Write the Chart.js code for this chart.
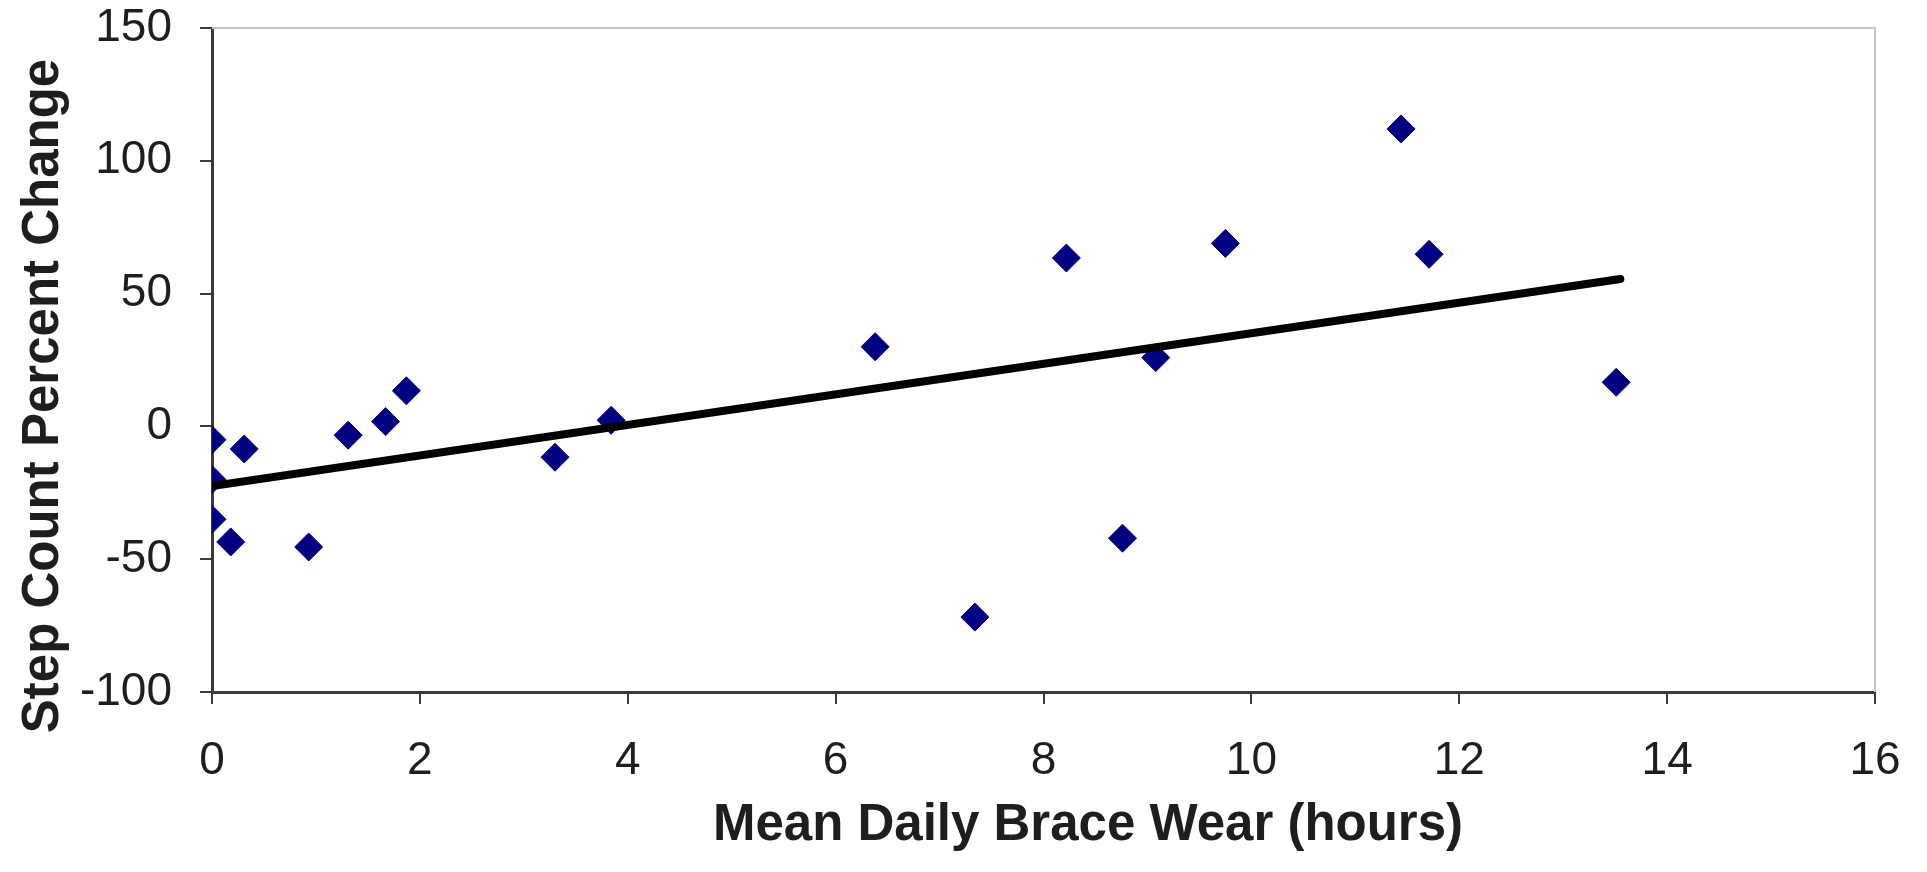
<!DOCTYPE html>
<html>
<head>
<meta charset="utf-8">
<title>Step Count Percent Change vs Mean Daily Brace Wear</title>
<script src="https://cdn.jsdelivr.net/npm/chart.js@4.4.1/dist/chart.umd.min.js"></script>
<style>
  html, body { margin: 0; padding: 0; background: #fff; }
  #wrap { width: 1927px; height: 872px; position: relative; }
</style>
</head>
<body>
<div id="wrap"><canvas id="chart"></canvas></div>
<script>
// values
const braceHours = [0, 0, 0, 0.18, 0.31, 0.93, 1.31, 1.67, 1.87, 3.30, 3.84,
                    6.38, 7.34, 8.22, 8.76, 9.08, 9.75, 11.44, 11.71, 13.51];
const stepChange = [-5, -20, -35, -43.5, -8.5, -45.4, -3.3, 1.8, 13.4, -11.6, 2.3,
                    30.0, -71.8, 63.4, -42.1, 25.9, 68.9, 112, 64.8, 16.6];

// trend line ends
const trendHours = [0, 13.55];
const trendChange = [-22.5, 55.5];

const xTickValues = [0, 2, 4, 6, 8, 10, 12, 14, 16];
const yTickValues = [-100, -50, 0, 50, 100, 150];

const xTitle = 'Mean Daily Brace Wear (hours)';
const yTitle = 'Step Count Percent Change';

const FONT = '"Liberation Sans", Arial, Helvetica, sans-serif';
const AXIS = '#3a3a3a';
const TEXT = '#1e1e1e';

const points = braceHours.map((h, i) => ({ x: h, y: stepChange[i] }));
const trend = trendHours.map((h, i) => ({ x: h, y: trendChange[i] }));

// light frame on top / right, axis titles placed like the original
const framePlugin = {
  id: 'frame',
  beforeDatasetsDraw(chart) {
    const { ctx, chartArea: a } = chart;
    ctx.save();
    ctx.strokeStyle = '#c4c4c4';
    ctx.lineWidth = 2;
    ctx.beginPath();
    ctx.moveTo(a.left, a.top);
    ctx.lineTo(a.right, a.top);
    ctx.lineTo(a.right, a.bottom);
    ctx.stroke();
    ctx.restore();
  },
  afterDraw(chart) {
    const ctx = chart.ctx;
    ctx.save();
    ctx.font = 'bold 51px ' + FONT;
    ctx.fillStyle = TEXT;
    ctx.textAlign = 'center';
    ctx.textBaseline = 'middle';
    ctx.fillText(xTitle, 1088, 826);
    ctx.translate(44, 396);
    ctx.rotate(-Math.PI / 2);
    ctx.fillText(yTitle, 0, 0);
    ctx.restore();
  }
};

new Chart(document.getElementById('chart'), {
  type: 'scatter',
  data: {
    datasets: [
      {
        type: 'line',
        label: 'Trend',
        data: trend,
        borderColor: '#000',
        borderWidth: 8,
        borderCapStyle: 'round',
        pointRadius: 0,
        fill: false
      },
      {
        label: 'Participants',
        data: points,
        pointStyle: 'rectRot',
        pointRadius: 14,
        backgroundColor: '#000080',
        borderColor: '#000080',
        borderWidth: 1
      }
    ]
  },
  options: {
    responsive: true,
    maintainAspectRatio: false,
    animation: false,
    layout: { padding: 0 },
    plugins: {
      legend: { display: false },
      tooltip: { enabled: false }
    },
    scales: {
      x: {
        type: 'linear',
        min: 0,
        max: 16,
        afterBuildTicks: (s) => { s.ticks = xTickValues.map(v => ({ value: v })); },
        afterFit: (s) => { s.height = 180; s.paddingRight = 52; s.paddingLeft = 0; },
        ticks: { color: TEXT, font: { family: FONT, size: 46 }, padding: 30, maxRotation: 0 },
        grid: { drawOnChartArea: false, tickLength: 12, color: AXIS, lineWidth: 2 },
        border: { color: AXIS, width: 3 }
      },
      y: {
        type: 'linear',
        min: -100,
        max: 150,
        afterBuildTicks: (s) => { s.ticks = yTickValues.map(v => ({ value: v })); },
        afterFit: (s) => { s.width = 212; s.paddingTop = 28; s.paddingBottom = 0; },
        ticks: { color: TEXT, font: { family: FONT, size: 46 }, padding: 28 },
        grid: { drawOnChartArea: false, tickLength: 12, color: AXIS, lineWidth: 2 },
        border: { color: AXIS, width: 3 }
      }
    }
  },
  plugins: [framePlugin]
});
</script>
</body>
</html>
